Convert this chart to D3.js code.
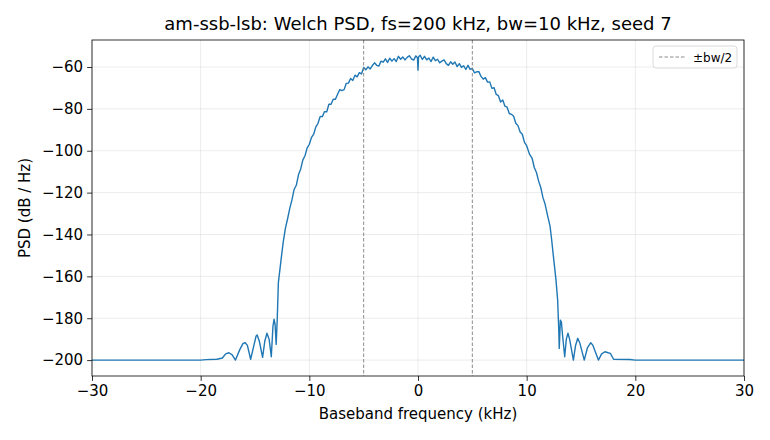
<!DOCTYPE html>
<html><head><meta charset="utf-8">
<script src="https://cdn.jsdelivr.net/npm/d3@7"></script>
<style>body{margin:0;background:#fff}svg{display:block;font-family:"DejaVu Sans",sans-serif}</style>
</head><body><svg id="c" width="770" height="440"></svg>
<script>
const titleText = "am-ssb-lsb: Welch PSD, fs=200 kHz, bw=10 kHz, seed 7";
const xLabel = "Baseband frequency (kHz)";
const yLabel = "PSD (dB / Hz)";
const xTicks = [-30, -20, -10, 0, 10, 20, 30];
const yTicks = [-200, -180, -160, -140, -120, -100, -80, -60];
const bandEdges = [-5, 5];
const legendLabel = "±bw/2";

const freqKHz = [
-30, -25, -20, -19.5, -18.5, -18, -17.7, -17.4, -17.1, -16.8, -16.4, -16.1, -15.9, -15.7, -15.4,
-15.1, -14.9, -14.8, -14.6, -14.3, -14.1, -13.9, -13.7, -13.5, -13.35, -13.25, -13.15, -13.05, -12.95,
-12.85, -12.6, -12.4, -12.2, -12.0, -11.8, -11.6, -11.4, -11.2, -11.0, -10.8, -10.6, -10.4, -10.2,
-10.0, -9.8, -9.6, -9.4, -9.2,
-9.0, -8.8, -8.6, -8.4, -8.2, -8.0, -7.8, -7.6, -7.4, -7.2, -7.0, -6.8, -6.6, -6.4, -6.2, -6.0,
-5.8, -5.6, -5.4, -5.2, -5.0, -4.8, -4.6, -4.4, -4.2, -4.0, -3.8, -3.6, -3.4, -3.2, -3.0, -2.8,
-2.6, -2.4, -2.2, -2.0, -1.8, -1.6, -1.4, -1.2, -1.0, -0.8, -0.6, -0.4, -0.2, -0.05, 0, 0.05,
0.2, 0.4, 0.6, 0.8, 1.0, 1.2, 1.4, 1.6, 1.8, 2.0, 2.2, 2.4, 2.6, 2.8, 3.0, 3.2, 3.4, 3.6, 3.8,
4.0, 4.2, 4.4, 4.6, 4.8, 5.0, 5.2, 5.4, 5.6, 5.8, 6.0, 6.2, 6.4, 6.6, 6.8, 7.0, 7.2, 7.4, 7.6,
7.8, 8.0, 8.2, 8.4, 8.6, 8.8, 9.0,
9.2, 9.4, 9.6, 9.8, 10.0, 10.25, 10.5, 10.7, 10.9, 11.1, 11.3, 11.5, 11.7, 11.9, 12.15, 12.3,
12.45, 12.6, 12.7, 12.85, 12.95, 13.0, 13.1, 13.2, 13.3, 13.5, 13.65, 13.8, 13.95, 14.3, 14.5,
14.7, 14.9, 15.3, 15.6, 15.9, 16.1, 16.6, 16.9, 17.2, 17.5, 17.7, 18.0, 19.5, 20, 25, 30
];
const psdDb = [
-200, -200, -200, -199.8, -199.6, -199, -197, -196.5, -197.5, -200, -195, -192, -191.7, -193, -199.6,
-193, -188.5, -188, -191, -198.7, -191, -187.2, -190, -198.4, -184, -180.5, -183, -192.5, -180,
-163, -152, -143.5, -137, -132.5, -127.5, -123.5, -118.5, -116.5, -111.5, -108.8, -104.5, -102.4, -98.6,
-96.9, -93.6, -92.1, -88.6, -86.9,
-83.6, -83.7, -81.3, -81.4, -77.8, -77.8, -75.4, -75.4, -73.0, -70.8, -71.3, -70.8, -67.8, -67.7, -65.5, -66.4,
-63.9, -64.7, -62.7, -63.3, -60.2, -61.3, -59.9, -60.9, -59.3, -58.0, -59.2, -59.5, -57.2, -57.7, -56.1, -57.8,
-55.8, -57.2, -56.0, -57.4, -54.9, -56.3, -55.2, -56.6, -55.4, -54.6, -56.1, -56.7, -54.7, -55.6, -61.5, -55.2,
-54.4, -56.4, -54.9, -56.6, -55.7, -57.4, -55.3, -57.0, -56.3, -58.0, -57.2, -56.6, -58.4, -59.2, -57.5, -58.7, -57.6, -59.8, -58.4,
-60.2, -59.4, -61.2, -59.2, -61.1, -60.7, -62.8, -62.3, -62.2, -64.5, -65.8, -65.1, -67.2, -67.1, -70.2, -69.9, -73.1, -73.7, -76.7,
-75.8, -78.7, -79.2, -82.2, -82.6, -83.5, -86.9,
-88.0, -91.0, -92.1, -96.0, -97.6, -101.5, -103.6, -108.0, -110.4, -114.5, -117.6, -122.4, -125.6, -130.4, -136.0, -142.5,
-150, -157, -161.8, -171.3, -185, -194.4, -180.9, -182, -188, -198.4, -190, -187.2, -190, -200, -193,
-189.6, -192, -200, -194, -191.7, -193, -200, -197, -196, -196.5, -196.8, -199.6, -199.7, -200, -200, -200
];

const m = {left: 92, right: 744, top: 40, bottom: 376};
const svg = d3.select("#c");

const x = d3.scaleLinear().domain([-30, 30]).range([m.left, m.right]);
const y = d3.scaleLinear().domain([-207.6, -47.1]).range([m.bottom, m.top]);

const g = svg.append("g");
g.selectAll("line.gx").data(xTicks).join("line")
  .attr("x1", d => x(d)).attr("x2", d => x(d)).attr("y1", m.top).attr("y2", m.bottom)
  .attr("stroke", "#b0b0b0").attr("stroke-opacity", 0.3).attr("stroke-width", 0.8);
g.selectAll("line.gy").data(yTicks).join("line")
  .attr("x1", m.left).attr("x2", m.right).attr("y1", d => y(d)).attr("y2", d => y(d))
  .attr("stroke", "#b0b0b0").attr("stroke-opacity", 0.3).attr("stroke-width", 0.8);

svg.append("clipPath").attr("id", "clip").append("rect")
  .attr("x", m.left).attr("y", m.top).attr("width", m.right - m.left).attr("height", m.bottom - m.top);

const pts = freqKHz.map((f, i) => [f, psdDb[i]]);
const line = d3.line().x(d => x(d[0])).y(d => y(d[1]));
svg.append("path").datum(pts).attr("clip-path", "url(#clip)")
  .attr("d", line).attr("fill", "none").attr("stroke", "#1f77b4").attr("stroke-width", 1.4)
  .attr("stroke-linejoin", "round");

svg.selectAll("line.edge").data(bandEdges).join("line")
  .attr("x1", d => x(d)).attr("x2", d => x(d)).attr("y1", m.top).attr("y2", m.bottom)
  .attr("stroke", "#808080").attr("stroke-width", 0.9).attr("stroke-dasharray", "3.5,2");

const fmt = d => d < 0 ? "\u2212" + Math.abs(d) : String(d);
const xa = svg.append("g").attr("transform", `translate(0,${m.bottom})`)
  .call(d3.axisBottom(x).tickValues(xTicks).tickFormat(fmt).tickSize(4.9).tickPadding(4));
const ya = svg.append("g").attr("transform", `translate(${m.left},0)`)
  .call(d3.axisLeft(y).tickValues(yTicks).tickFormat(fmt).tickSize(4.9).tickPadding(4));
[xa, ya].forEach(a => {
  a.select(".domain").remove();
  a.selectAll("text").attr("font-size", 15).attr("font-family", "DejaVu Sans").attr("fill", "#000");
  a.selectAll("line").attr("stroke", "#000").attr("stroke-width", 0.8);
});
svg.append("rect").attr("x", m.left).attr("y", m.top).attr("width", m.right - m.left)
  .attr("height", m.bottom - m.top).attr("fill", "none").attr("stroke", "#000").attr("stroke-width", 0.8);

svg.append("text").attr("x", (m.left + m.right) / 2).attr("y", 30).attr("text-anchor", "middle")
  .attr("font-size", 18).text(titleText);
svg.append("text").attr("x", (m.left + m.right) / 2).attr("y", 419).attr("text-anchor", "middle")
  .attr("font-size", 15).text(xLabel);
svg.append("text").attr("transform", `translate(30,${(m.top + m.bottom) / 2}) rotate(-90)`)
  .attr("text-anchor", "middle").attr("font-size", 15).text(yLabel);

const lg = svg.append("g");
lg.append("rect").attr("x", 653).attr("y", 46).attr("width", 84).attr("height", 22).attr("rx", 3)
  .attr("fill", "#fff").attr("fill-opacity", 0.8).attr("stroke", "#d0d0d0").attr("stroke-width", 0.8);
lg.append("line").attr("x1", 659).attr("x2", 685).attr("y1", 57).attr("y2", 57)
  .attr("stroke", "#808080").attr("stroke-width", 0.9).attr("stroke-dasharray", "3.5,2");
lg.append("text").attr("x", 693).attr("y", 61.5).attr("font-size", 12).text(legendLabel);
</script></body></html>
